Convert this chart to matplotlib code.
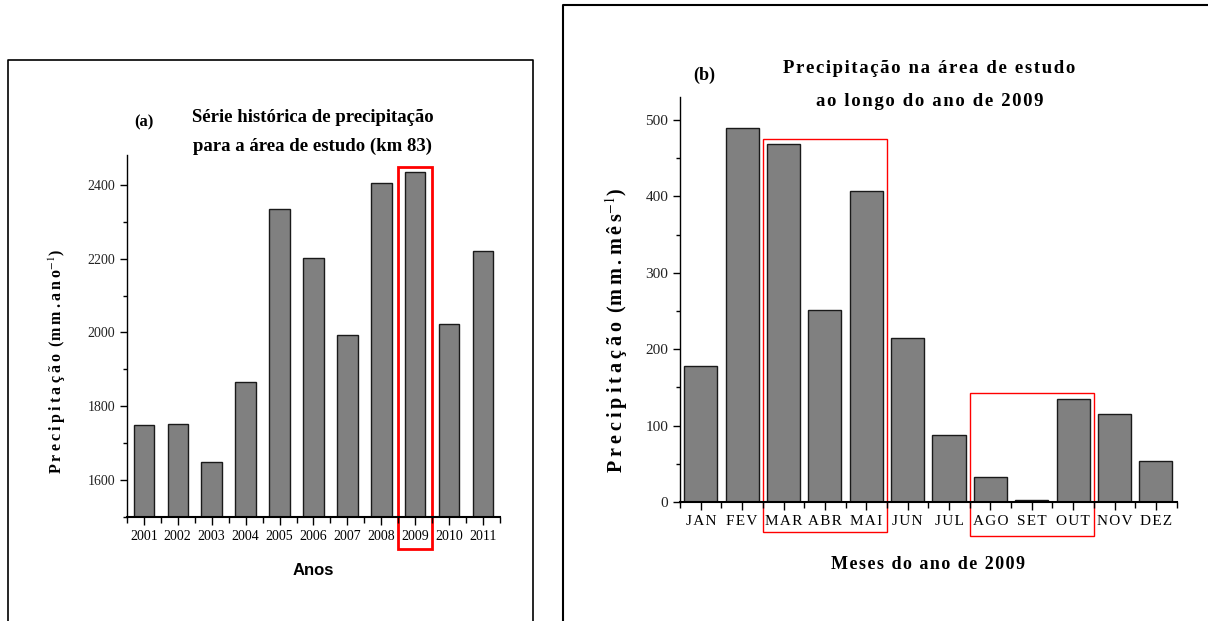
import matplotlib.pyplot as plt
from matplotlib.patches import Rectangle
from matplotlib.ticker import MultipleLocator

plt.rcParams['font.family'] = ['Liberation Serif', 'DejaVu Serif']
plt.rcParams['mathtext.fontset'] = 'stix'

# annual precipitation series (mm/year)
anos = [2001, 2002, 2003, 2004, 2005, 2006, 2007, 2008, 2009, 2010, 2011]
precip_anual = [1749, 1753, 1648, 1866, 2334, 2201, 1994, 2404, 2434, 2022, 2221]

# monthly precipitation in 2009 (mm/month)
meses = ['JAN', 'FEV', 'MAR', 'ABR', 'MAI', 'JUN', 'JUL', 'AGO', 'SET', 'OUT', 'NOV', 'DEZ']
precip_2009 = [178, 490, 469, 252, 407, 215, 88, 33, 3, 135, 115, 54]

HAIR = '\u200a'
THIN = '\u2009'


def spaced(s, sep=HAIR):
    return sep.join(s)


fig = plt.figure(figsize=(12.08, 6.21), dpi=100)

# outer frames around each panel
fig.add_artist(plt.Line2D([0.0066, 0.0066, 0.441, 0.441], [0.0, 0.903, 0.903, 0.0],
                          transform=fig.transFigure, color='black', lw=1.2))
fig.add_artist(plt.Line2D([0.466, 0.466, 1.0], [0.0, 0.992, 0.992],
                          transform=fig.transFigure, color='black', lw=1.5))


def style_axes(ax):
    ax.spines['top'].set_visible(False)
    ax.spines['right'].set_visible(False)
    ax.spines['left'].set_linewidth(1.0)
    ax.spines['bottom'].set_linewidth(1.5)
    ax.tick_params(which='major', direction='out', length=5, width=1, colors='black',
                   labelsize=10)
    ax.tick_params(which='minor', direction='out', length=3, width=1)
    ax.tick_params(axis='x', which='major', length=6)
    ax.tick_params(axis='x', which='minor', length=4)
    ax.xaxis.set_minor_locator(MultipleLocator(0.5))


# (a) annual series
ax1 = fig.add_axes([0.105, 0.1675, 0.309, 0.5825])
ax1.bar(anos, precip_anual, width=0.6, color='#808080', edgecolor='#1a1a1a', lw=1.0)
ax1.set_xlim(2000.5, 2011.5)
ax1.set_ylim(1500, 2480)
ax1.set_xticks(anos)
ax1.set_xticklabels([str(a) for a in anos], color='#222222')
ax1.yaxis.set_minor_locator(MultipleLocator(100))
ax1.set_yticks([1600, 1800, 2000, 2200, 2400])
style_axes(ax1)
for lab in ax1.get_yticklabels():
    lab.set_color('#222222')
ax1.add_patch(Rectangle((2008.5, 1414), 1.0, 2448 - 1414, fill=False,
                        edgecolor='red', lw=2.0, clip_on=False))
ax1.set_ylabel(spaced('Precipitação ', THIN) + '(' + spaced('mm.ano', THIN) + r'$^{-1}$)',
               fontsize=11.5, fontweight='bold')
ax1.yaxis.set_label_coords(-0.157, 0.43)
ax1.set_xlabel('Anos', family=['Liberation Sans', 'DejaVu Sans'], fontsize=12,
               fontweight='bold', labelpad=14)
fig.text(0.119, 0.803, '(a)', fontsize=12, fontweight='bold', ha='center', va='center')
fig.text(0.259, 0.811, 'Série histórica de precipitação', fontsize=13.5,
         fontweight='bold', ha='center', va='center')
fig.text(0.259, 0.764, 'para a área de estudo (km 83)', fontsize=13.5,
         fontweight='bold', ha='center', va='center')

# (b) monthly series for 2009
pos = list(range(1, len(meses) + 1))
ax2 = fig.add_axes([0.563, 0.1916, 0.411, 0.652])
ax2.bar(pos, precip_2009, width=0.8, color='#808080', edgecolor='#1a1a1a', lw=1.0)
ax2.set_xlim(0.5, 12.5)
ax2.set_ylim(0, 530)
ax2.set_xticks(pos)
ax2.set_xticklabels([spaced(m) for m in meses], fontsize=11, color='#222222')
ax2.yaxis.set_major_locator(MultipleLocator(100))
ax2.yaxis.set_minor_locator(MultipleLocator(50))
style_axes(ax2)
ax2.tick_params(axis='x', which='major', labelsize=11)
ax2.tick_params(axis='y', which='major', labelsize=11)
for lab in ax2.get_yticklabels():
    lab.set_color('#222222')
ax2.add_patch(Rectangle((2.5, -39), 3.0, 475 + 39, fill=False,
                        edgecolor='red', lw=1.0, clip_on=False))
ax2.add_patch(Rectangle((7.5, -45), 3.0, 143 + 45, fill=False,
                        edgecolor='red', lw=1.0, clip_on=False))
ax2.set_ylabel(spaced('Precipitação ', THIN) + '(' + spaced('mm.mês', THIN) + r'$^{-1}$)',
               fontsize=14.5, fontweight='bold')
ax2.yaxis.set_label_coords(-0.10, 0.425)
ax2.set_xlabel(spaced('Meses do ano de 2009'), fontsize=13, fontweight='bold', labelpad=20)
fig.text(0.583, 0.879, '(b)', fontsize=13, fontweight='bold', ha='center', va='center')
fig.text(0.769, 0.890, spaced('Precipitação na área de estudo'), fontsize=13.5,
         fontweight='bold', ha='center', va='center')
fig.text(0.770, 0.836, spaced('ao longo do ano de 2009'), fontsize=13.5,
         fontweight='bold', ha='center', va='center')

fig.savefig('out.png', dpi=100)
